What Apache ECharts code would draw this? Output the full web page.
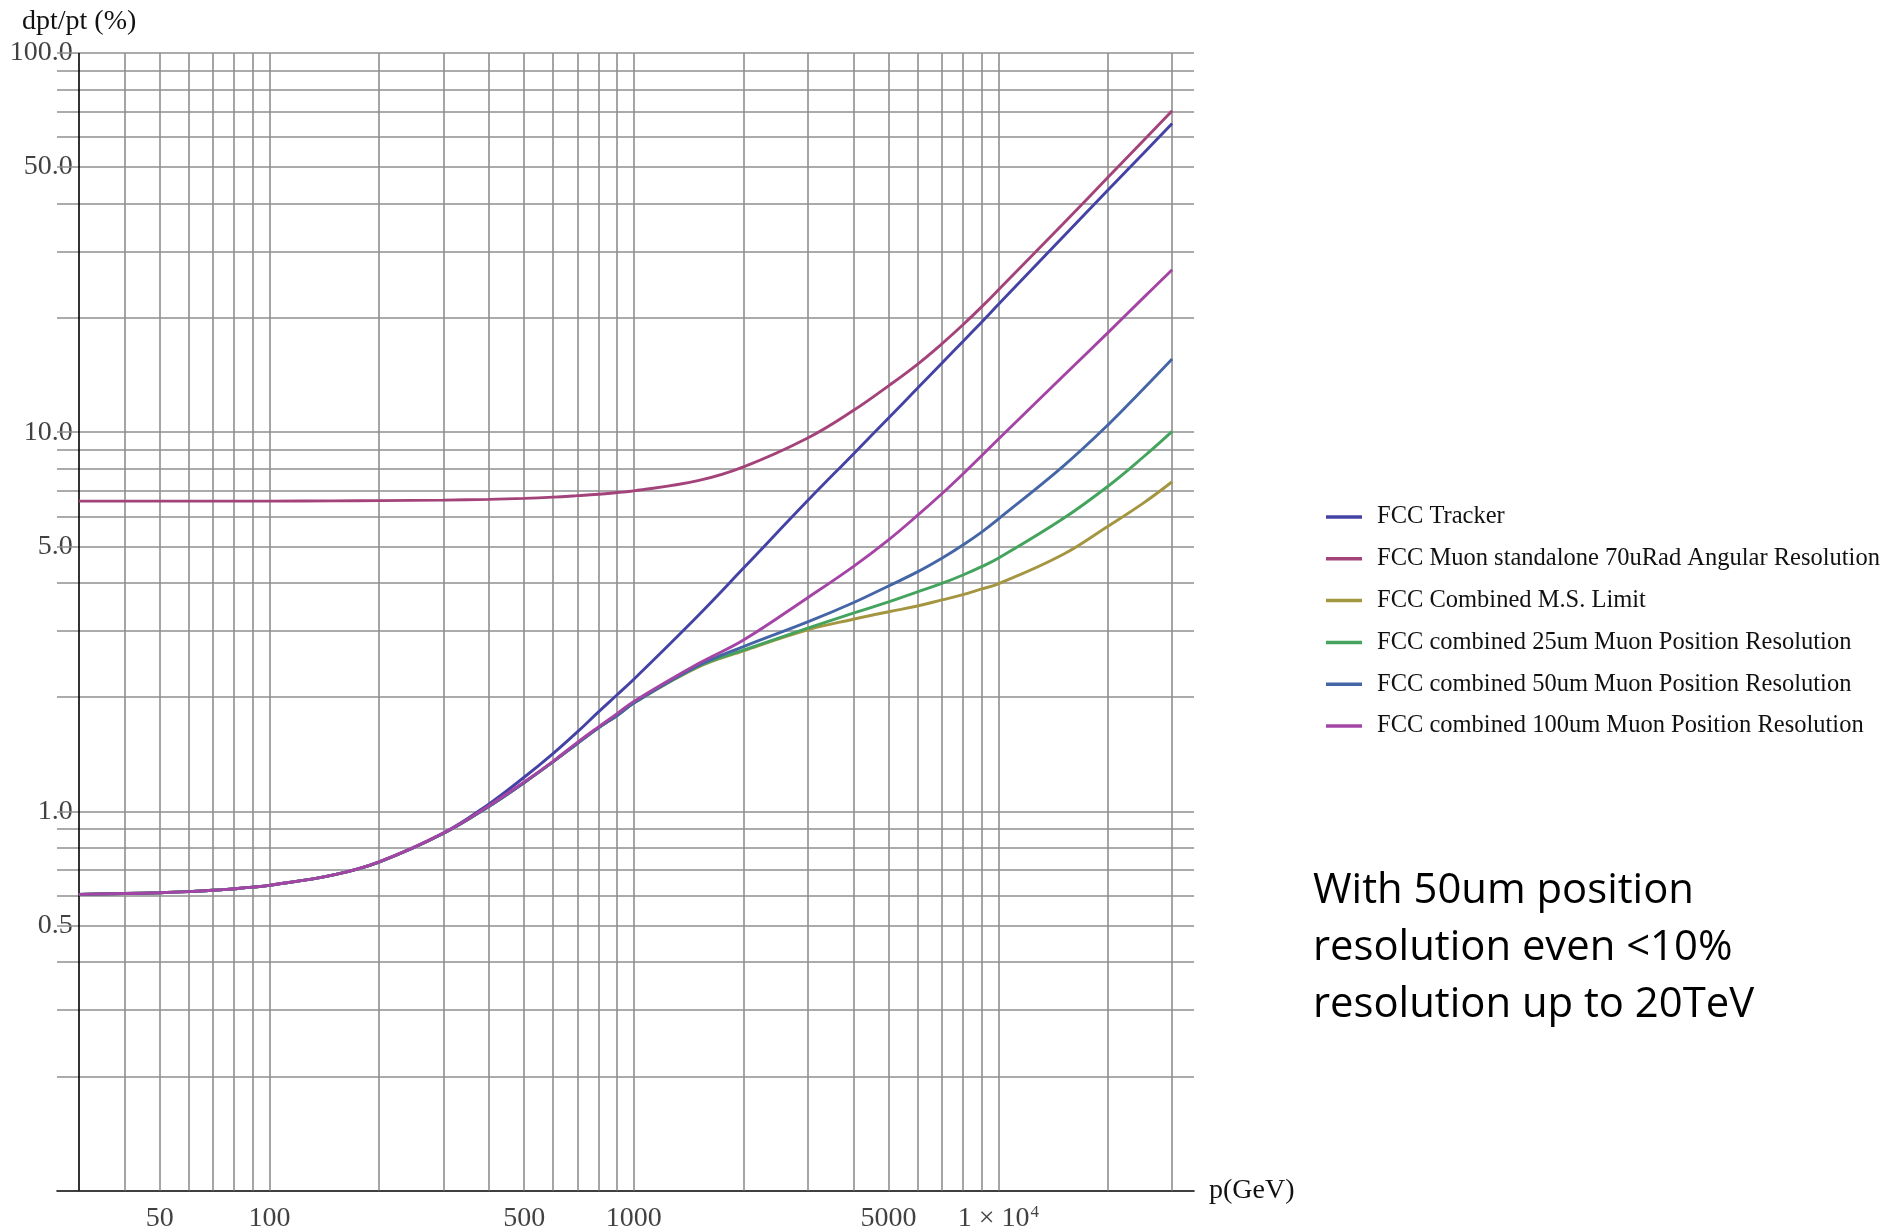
<!DOCTYPE html>
<html><head><meta charset="utf-8">
<script src="https://cdn.jsdelivr.net/npm/echarts@6/dist/echarts.min.js"></script>
<style>html,body{margin:0;padding:0;background:#fff}#chart{width:1895px;height:1231px}</style>
</head><body><div id="chart"></div>
<script>
// momentum p (GeV) sample points
const momenta = [30,40,50,60,70,80,90,100,150,200,300,400,500,600,700,800,900,1000,1500,2000,3000,4000,5000,6000,7000,8000,9000,10000,15000,20000,25000,30000];
// dpt/pt (%)
const tracker = [0.604,0.607,0.610,0.614,0.619,0.625,0.631,0.638,0.680,0.736,0.876,1.045,1.23,1.42,1.62,1.83,2.03,2.23,3.28,4.38,6.6,8.75,10.9,13.05,15.2,17.35,19.5,21.7,32.6,43.5,54.3,65.2];
const muonStandalone = [6.58,6.58,6.58,6.58,6.58,6.58,6.58,6.58,6.59,6.60,6.62,6.65,6.69,6.74,6.80,6.86,6.93,7.0,7.45,8.1,9.65,11.4,13.25,15.1,17.1,19.2,21.4,23.7,35.3,47.0,58.7,70.4];
const combinedMS = [0.604,0.607,0.610,0.614,0.619,0.625,0.631,0.638,0.680,0.735,0.874,1.03,1.19,1.35,1.51,1.66,1.79,1.93,2.40,2.65,3.01,3.21,3.36,3.48,3.61,3.73,3.86,3.98,4.75,5.65,6.5,7.4];
const combined25 = [0.604,0.607,0.610,0.614,0.619,0.625,0.631,0.638,0.680,0.735,0.874,1.03,1.19,1.35,1.51,1.66,1.79,1.93,2.41,2.66,3.04,3.33,3.57,3.79,3.99,4.20,4.42,4.65,5.90,7.2,8.6,10.05];
const combined50 = [0.604,0.607,0.610,0.614,0.619,0.625,0.631,0.638,0.680,0.735,0.874,1.03,1.19,1.35,1.51,1.66,1.79,1.93,2.42,2.72,3.16,3.55,3.93,4.28,4.65,5.04,5.45,5.9,8.1,10.45,13.0,15.6];
const combined100 = [0.604,0.607,0.610,0.614,0.619,0.625,0.631,0.638,0.680,0.736,0.876,1.035,1.195,1.355,1.52,1.67,1.81,1.95,2.45,2.83,3.66,4.42,5.2,6.03,6.88,7.76,8.67,9.58,14.0,18.3,22.6,26.8];

const seriesNames = ['FCC Tracker','FCC Muon standalone 70uRad Angular Resolution','FCC Combined M.S. Limit','FCC combined 25um Muon Position Resolution','FCC combined 50um Muon Position Resolution','FCC combined 100um Muon Position Resolution'];
const seriesValues = [tracker, muonStandalone, combinedMS, combined25, combined50, combined100];
const seriesColors = ['#4443a5','#a4437a','#a49640','#44a45d','#4466a6','#a444a4'];

// grid lines and tick labels
const xGridValues = [40,50,60,70,80,90,100,200,300,400,500,600,700,800,900,1000,2000,3000,4000,5000,6000,7000,8000,9000,10000,20000,30000];
const yGridValues = [0.2,0.3,0.4,0.5,0.6,0.7,0.8,0.9,1,2,3,4,5,6,7,8,9,10,20,30,40,50,60,70,80,90,100];
const xTickValues = [50,100,500,1000,5000,10000];
const xTickLabels = ['50','100','500','1000','5000','1 × 10{sup|4}'];
const yTickValues = [100,50,10,5,1,0.5];
const yTickLabels = ['100.0','50.0','10.0','5.0','1.0','0.5'];
const xAxisOrigin = 30;   // where the vertical axis crosses
const yAxisOrigin = 0.1;  // where the horizontal axis sits

const serif = '"Liberation Serif", "DejaVu Serif", serif';
const chart = echarts.init(document.getElementById('chart'), null, {renderer:'canvas'});

const lineSeries = seriesNames.map((n, i) => ({
  name: n, type: 'line', showSymbol: false, smooth: 0.4,
  data: momenta.map((p, j) => [p, seriesValues[i][j]]),
  lineStyle: {color: seriesColors[i], width: 2.9},
  itemStyle: {color: seriesColors[i]},
  z: 5 + i, silent: true
}));

const option = {
  animation: false,
  backgroundColor: '#fff',
  title: {text: 'dpt/pt (%)', left: 22, top: 8, padding: 0,
    textStyle: {fontFamily: serif, fontSize: 28, fontWeight: 'normal', color: '#111', lineHeight: 28}},
  grid: {left: 57, right: 701, top: 53, bottom: 40.5, containLabel: false},
  xAxis: {type: 'log', min: 26.13, max: 34440, logBase: 10,
    axisLine: {show: true, onZero: false, lineStyle: {color: '#000', width: 1.6}},
    axisTick: {show: false}, axisLabel: {show: false}, splitLine: {show: false},
    name: 'p(GeV)', nameLocation: 'end', nameGap: 15,
    nameTextStyle: {fontFamily: serif, fontSize: 28, color: '#111', verticalAlign: 'middle'}},
  yAxis: {type: 'log', min: 0.1, max: 100, logBase: 10,
    axisLine: {show: false}, axisTick: {show: false}, axisLabel: {show: false}, splitLine: {show: false}},
  legend: {
    data: seriesNames, orient: 'vertical', left: 1321, top: 497,
    icon: 'rect', itemWidth: 36, itemHeight: 3.5, itemGap: 11.8, selectedMode: false,
    textStyle: {fontFamily: serif, fontSize: 24.5, color: '#111', lineHeight: 30, padding: [0,0,0,10]}
  },
  graphic: [{
    type: 'text', left: 1313, top: 862,
    style: {text: 'With 50um position\nresolution even <10%\nresolution up to 20TeV',
      font: '41.8px "Open Sans"', lineHeight: 57.4, fill: '#000'}
  }],
  series: [
    {type: 'line', data: [], silent: true, z: 1,
     markLine: {silent: true, symbol: ['none','none'], label: {show: false}, animation: false,
       lineStyle: {color: '#8f8f8f', width: 1.6, type: 'solid'},
       emphasis: {disabled: true},
       data: xGridValues.map(v => ({xAxis: v})).concat(yGridValues.map(v => ({yAxis: v})))}},
    {type: 'line', data: [], silent: true, z: 2,
     markLine: {silent: true, symbol: ['none','none'], label: {show: false}, animation: false,
       lineStyle: {color: '#000', width: 1.6, type: 'solid'},
       emphasis: {disabled: true},
       data: [{xAxis: xAxisOrigin}]}},
    {type: 'scatter', symbolSize: 0, silent: true, clip: false, z: 3,
     data: xTickValues.map((v, i) => ({value: [v, yAxisOrigin], label: {formatter: xTickLabels[i]}})),
     label: {show: true, position: 'bottom', distance: 14, fontFamily: serif, fontSize: 28, lineHeight: 28, color: '#111',
       rich: {sup: {fontFamily: serif, fontSize: 17, verticalAlign: 'top', lineHeight: 17, padding: [0,0,12,1]}}}},
    {type: 'scatter', symbolSize: 0, silent: true, clip: false, z: 3,
     data: yTickValues.map((v, i) => ({value: [xAxisOrigin, v], label: {formatter: yTickLabels[i]}})),
     label: {show: true, position: 'left', distance: 6, fontFamily: serif, fontSize: 28, lineHeight: 28, color: '#111'}}
  ].concat(lineSeries)
};
chart.setOption(option);
</script></body></html>
